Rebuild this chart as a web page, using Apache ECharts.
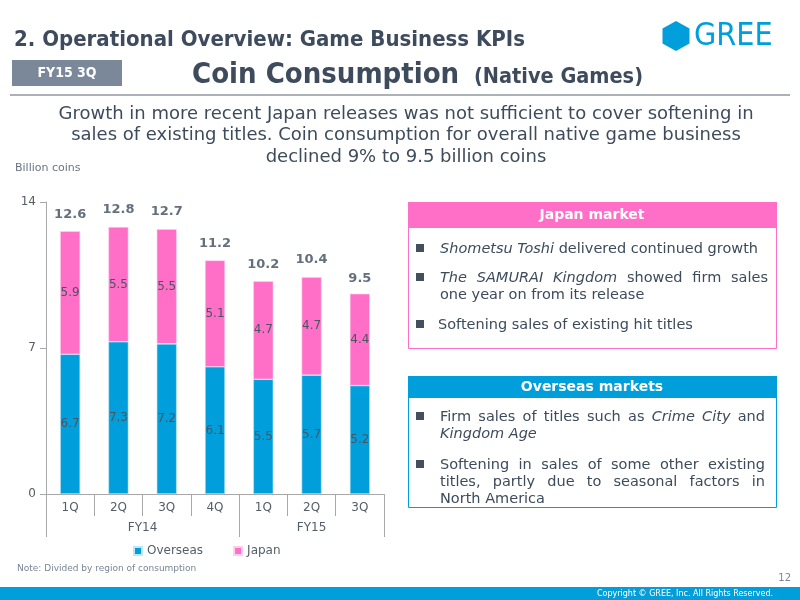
<!DOCTYPE html>
<html>
<head>
<meta charset="utf-8">
<script src="https://cdn.jsdelivr.net/npm/echarts@6/dist/echarts.min.js"></script>
<style>
html,body{margin:0;padding:0;background:#fff;}
#c{width:800px;height:600px;}
</style>
</head>
<body>
<div id="c"></div>
<script>
// ---- data ----
var quarters = ['1Q', '2Q', '3Q', '4Q', '1Q', '2Q', '3Q'];
var overseas = [6.7, 7.3, 7.2, 6.1, 5.5, 5.7, 5.2];
var japan = [5.9, 5.5, 5.5, 5.1, 4.7, 4.7, 4.4];
var totals = [12.6, 12.8, 12.7, 11.2, 10.2, 10.4, 9.5];
var fiscalYears = ['FY14', 'FY15'];
var fiscalSpans = [4, 3];
var yTicks = [0, 7, 14];

var DARK = '#3d4b5c';
var BLUE = '#009fdb';
var PINK = '#ff6ec7';
var FONT = 'DejaVu Sans';
var BODY = 14.5;

// group boundaries & centres on a 0..n value axis
var bounds = [0], centres = [], acc = 0;
fiscalSpans.forEach(function (s) { centres.push(acc + s / 2); acc += s; bounds.push(acc); });

var chart = echarts.init(document.getElementById('c'));

var bullet = function (x, y, c) {
  return { type: 'rect', shape: { x: x, y: y, width: 8, height: 8 }, style: { fill: c || '#44505e' } };
};
var txt = function (x, y, text, opt) {
  opt = opt || {};
  return {
    type: 'text', x: x, y: y,
    style: Object.assign({
      text: text, fill: DARK, font: (opt.italic ? 'italic ' : '') + (opt.weight || 'normal') + ' ' + (opt.size || BODY) + 'px ' + (opt.family || FONT),
      textAlign: opt.align || 'left', textVerticalAlign: opt.valign || 'middle'
    }, opt.style || {})
  };
};
// measure helper for justified lines
var mctx = document.createElement('canvas').getContext('2d');
function measure(w, italic) {
  mctx.font = (italic ? 'italic ' : '') + BODY + 'px "' + FONT + '"';
  return mctx.measureText(w).width;
}
// segments: [[text, italic], ...]; justify across [x0, x1]
function line(x0, x1, y, segments, justify) {
  var words = [];
  segments.forEach(function (s) {
    s[0].split(' ').forEach(function (w) { if (w) words.push([w, !!s[1]]); });
  });
  var widths = words.map(function (w) { return measure(w[0], w[1]); });
  var total = widths.reduce(function (a, b) { return a + b; }, 0);
  var gap = justify && words.length > 1 ? (x1 - x0 - total) / (words.length - 1) : measure(' ', false);
  var out = [], x = x0;
  words.forEach(function (w, i) {
    out.push(txt(x, y, w[0], { italic: w[1] }));
    x += widths[i] + gap;
  });
  return out;
}

var graphics = [
  // title
  txt(14, 40, '2. Operational Overview: Game Business KPIs', { size: 22, weight: 'bold', family: 'DejaVu Sans Condensed' }),
  // logo
  { type: 'polygon', shape: { points: [[676, 21], [689.5, 28.5], [689.5, 43.5], [676, 51], [662.5, 43.5], [662.5, 28.5]] }, style: { fill: BLUE } },
  txt(694, 37, 'GREE', { size: 32, family: 'DejaVu Sans Condensed', style: { fill: BLUE } }),
  // FY badge
  { type: 'rect', shape: { x: 12, y: 60, width: 110, height: 26 }, style: { fill: '#7a8899' } },
  txt(67, 73, 'FY15 3Q', { size: 14, weight: 'bold', align: 'center', family: 'DejaVu Sans Condensed', style: { fill: '#fff' } }),
  // headline
  txt(192, 75, 'Coin Consumption', { size: 29, weight: 'bold', family: 'DejaVu Sans Condensed' }),
  txt(474, 77, '(Native Games)', { size: 21.5, weight: 'bold', family: 'DejaVu Sans Condensed' }),
  { type: 'line', shape: { x1: 10, y1: 95, x2: 790, y2: 95 }, style: { stroke: '#5a6470', lineWidth: 1 } },
  // subtitle
  txt(406, 114, 'Growth in more recent Japan releases was not sufficient to cover softening in', { size: 18, align: 'center' }),
  txt(406, 135, 'sales of existing titles. Coin consumption for overall native game business', { size: 18, align: 'center' }),
  txt(406, 157, 'declined 9% to 9.5 billion coins', { size: 18, align: 'center' }),
  // axis unit
  txt(15, 168, 'Billion coins', { size: 11, style: { fill: '#6b7380' } }),
  // Japan box
  { type: 'rect', shape: { x: 408.5, y: 202.5, width: 368, height: 146 }, style: { fill: '#fff', stroke: PINK, lineWidth: 1 } },
  { type: 'rect', shape: { x: 408, y: 202, width: 369, height: 26 }, style: { fill: PINK } },
  txt(592, 215, 'Japan market', { size: 14, weight: 'bold', align: 'center', style: { fill: '#fff' } }),
  bullet(416, 244),
  bullet(416, 273),
  txt(440, 295, 'one year on from its release'),
  bullet(416, 320),
  txt(438, 325, 'Softening sales of existing hit titles'),
  // Overseas box
  { type: 'rect', shape: { x: 408.5, y: 376.5, width: 368, height: 131 }, style: { fill: '#fff', stroke: BLUE, lineWidth: 1 } },
  { type: 'rect', shape: { x: 408, y: 376, width: 369, height: 22 }, style: { fill: BLUE } },
  txt(592, 387, 'Overseas markets', { size: 14, weight: 'bold', align: 'center', style: { fill: '#fff' } }),
  bullet(416, 412),
  txt(440, 434, 'Kingdom Age', { italic: true }),
  bullet(416, 460),
  txt(440, 499, 'North America'),
  // note
  txt(17, 569, 'Note: Divided by region of consumption', { size: 9, style: { fill: '#7a8594' } }),
  txt(791, 578, '12', { size: 10, align: 'right', style: { fill: '#7a8594' } }),
  // footer bar
  { type: 'rect', shape: { x: 0, y: 587, width: 800, height: 13 }, style: { fill: BLUE } },
  txt(685, 593.5, 'Copyright \u00a9 GREE, Inc. All Rights Reserved.', { size: 8, align: 'center', style: { fill: '#fff' } })
]
  .concat(line(440, 766, 249, [['Shometsu Toshi', true], [' delivered continued growth']], false))
  .concat(line(440, 768, 278, [['The SAMURAI Kingdom', true], [' showed firm sales']], true))
  .concat(line(440, 765, 417, [['Firm sales of titles such as '], ['Crime City', true], [' and']], true))
  .concat(line(440, 765, 465, [['Softening in sales of some other existing']], true))
  .concat(line(440, 765, 482, [['titles, partly due to seasonal factors in']], true));

var option = {
  backgroundColor: '#fff',
  animation: false,
  textStyle: { fontFamily: FONT },
  grid: { left: 46, right: 416, top: 202, bottom: 106, containLabel: false },
  legend: {
    data: ['Overseas', 'Japan'], left: 128, top: 540, itemWidth: 8, itemHeight: 8, itemGap: 30, icon: 'rect',
    textStyle: { fontSize: 12, color: '#555d68', fontFamily: FONT }
  },
  xAxis: [
    {
      type: 'category', data: quarters, position: 'bottom',
      axisLine: { lineStyle: { color: '#a8a8a8' } },
      axisTick: { show: true, interval: 0, length: 22, lineStyle: { color: '#a8a8a8' } },
      axisLabel: { interval: 0, fontSize: 12, color: '#555d68', margin: 8 }
    },
    {
      type: 'value', min: 0, max: quarters.length, position: 'bottom', offset: 22,
      axisLine: { show: false },
      splitLine: { show: false },
      axisTick: { show: true, length: 21, customValues: bounds, lineStyle: { color: '#a8a8a8' } },
      axisLabel: {
        customValues: centres, fontSize: 12, color: '#555d68', margin: 6,
        formatter: function (v) { var i = centres.indexOf(v); return i >= 0 ? fiscalYears[i] : ''; }
      }
    }
  ],
  yAxis: {
    type: 'value', min: 0, max: 14, interval: 7,
    axisLine: { show: true, lineStyle: { color: '#a8a8a8' } },
    axisTick: { show: true, length: 6, lineStyle: { color: '#a8a8a8' } },
    axisLabel: { fontSize: 12, color: '#555d68', margin: 10, formatter: function (v) { return yTicks.indexOf(v) >= 0 ? String(v) : ''; } },
    splitLine: { show: false }
  },
  series: [
    {
      name: 'Overseas', type: 'bar', stack: 't', data: overseas, barWidth: 20, xAxisIndex: 0,
      itemStyle: { color: BLUE, borderColor: '#bfe6f5', borderWidth: 0.6 },
      label: { show: true, position: 'inside', fontSize: 12, color: '#4a5560', formatter: function (p) { return p.value.toFixed(1); } }
    },
    {
      name: 'Japan', type: 'bar', stack: 't', data: japan, barWidth: 20, xAxisIndex: 0,
      itemStyle: { color: PINK, borderColor: '#ffd0ee', borderWidth: 0.6 },
      label: { show: true, position: 'inside', fontSize: 12, color: '#4a5560', formatter: function (p) { return p.value.toFixed(1); } }
    },
    {
      name: 'Total', type: 'scatter', data: totals, xAxisIndex: 0, symbolSize: 1,
      itemStyle: { color: 'rgba(0,0,0,0)' }, silent: true,
      label: { show: true, position: 'top', distance: 10, fontSize: 13, fontWeight: 'bold', color: DARK, formatter: function (p) { return p.value.toFixed(1); } }
    }
  ],
  graphic: graphics
};
chart.setOption(option);
</script>
</body>
</html>
